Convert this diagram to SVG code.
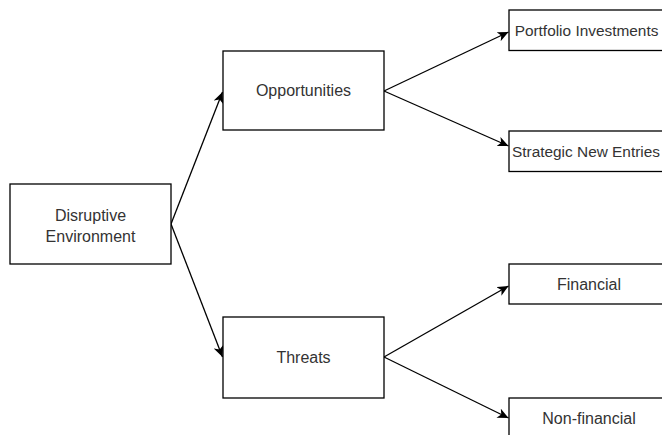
<svg xmlns="http://www.w3.org/2000/svg" width="662" height="435" viewBox="0 0 662 435">
<style>
.box{fill:#ffffff;stroke:#000000;stroke-width:1.3}
.lbl{font-family:"Liberation Sans",Arial,sans-serif;font-size:16px;fill:#333333;text-anchor:middle}
.tight{font-size:15.4px}
.edge{stroke:#000000;stroke-width:1.3;fill:none;marker-end:url(#arr)}
</style>
<defs>
<marker id="arr" markerUnits="userSpaceOnUse" markerWidth="12" markerHeight="10" refX="11" refY="5" orient="auto" viewBox="0 0 12 10">
<path d="M0,0 L11,5 L0,10 L3,5 Z" fill="#000000"/>
</marker>
</defs>
<rect width="662" height="435" fill="#ffffff"/>
<g id="connectors">
<line class="edge" x1="171" y1="224" x2="222.5" y2="92"/>
<line class="edge" x1="171" y1="224" x2="222.5" y2="357"/>
<line class="edge" x1="384" y1="91" x2="508.5" y2="32"/>
<line class="edge" x1="384" y1="91" x2="508.5" y2="146"/>
<line class="edge" x1="384" y1="357" x2="508.5" y2="286"/>
<line class="edge" x1="384" y1="357" x2="508.5" y2="418"/>
</g>
<g id="disruptive">
<rect class="box" x="10" y="184" width="161" height="80"/>
<text class="lbl" x="90.5" y="221">Disruptive</text>
<text class="lbl" x="90.5" y="242">Environment</text>
</g>
<g id="opportunities">
<rect class="box" x="223" y="51" width="161" height="79"/>
<text class="lbl" x="303.5" y="96">Opportunities</text>
</g>
<g id="threats">
<rect class="box" x="223" y="317" width="161" height="81"/>
<text class="lbl" x="303.5" y="363">Threats</text>
</g>
<g id="portfolio">
<rect class="box" x="509" y="10" width="160" height="40.5"/>
<text class="lbl tight" x="586.5" y="36">Portfolio Investments</text>
</g>
<g id="strategic">
<rect class="box" x="509" y="131" width="160" height="40.5"/>
<text class="lbl tight" x="586" y="157">Strategic New Entries</text>
</g>
<g id="financial">
<rect class="box" x="509" y="264" width="160" height="40"/>
<text class="lbl" x="589" y="290">Financial</text>
</g>
<g id="nonfinancial">
<rect class="box" x="509" y="398" width="160" height="40"/>
<text class="lbl" x="589" y="424">Non-financial</text>
</g>
</svg>
